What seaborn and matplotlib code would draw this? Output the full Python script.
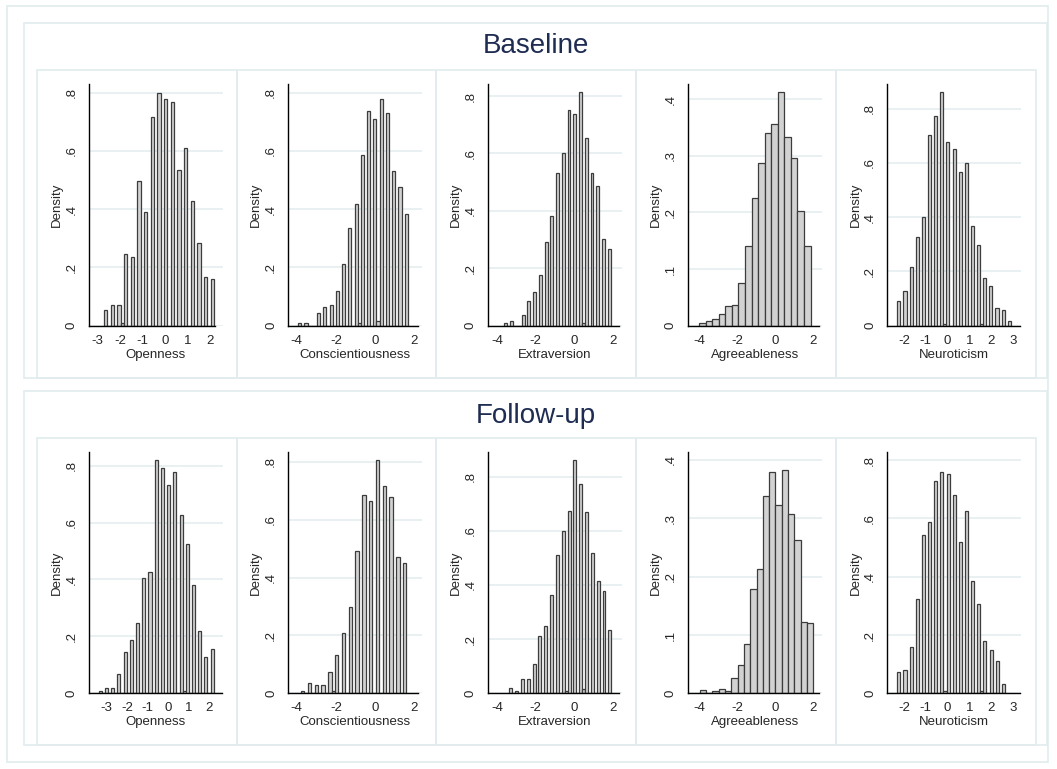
import numpy as np
import pandas as pd
import seaborn as sns
import matplotlib.pyplot as plt
from matplotlib.patches import Rectangle

traits = ["Openness", "Conscientiousness", "Extraversion", "Agreeableness", "Neuroticism"]
waves = ["Baseline", "Follow-up"]

# density of the main bars
open_b = [0.055, 0.070, 0.070, 0.245, 0.237, 0.496, 0.389, 0.715, 0.799, 0.777,
          0.768, 0.533, 0.609, 0.427, 0.283, 0.168, 0.161]
consc_b = [0.008, 0.008, 0.0, 0.042, 0.063, 0.071, 0.120, 0.211, 0.335, 0.419,
           0.585, 0.738, 0.711, 0.779, 0.731, 0.530, 0.475, 0.383]
extra_b = [0.008, 0.016, 0.0, 0.039, 0.086, 0.116, 0.175, 0.290, 0.381, 0.532,
           0.600, 0.752, 0.736, 0.813, 0.653, 0.532, 0.487, 0.303, 0.266]
agree_b = [0.004, 0.008, 0.011, 0.020, 0.034, 0.037, 0.075, 0.141, 0.226, 0.287,
           0.341, 0.357, 0.412, 0.334, 0.297, 0.203, 0.141]
neuro_b = [0.091, 0.129, 0.216, 0.328, 0.401, 0.702, 0.773, 0.861, 0.677, 0.653,
           0.568, 0.598, 0.369, 0.296, 0.177, 0.145, 0.066, 0.059, 0.018]

open_f = [0.009, 0.018, 0.018, 0.069, 0.144, 0.189, 0.248, 0.404, 0.426, 0.821,
          0.791, 0.731, 0.777, 0.627, 0.524, 0.382, 0.218, 0.129, 0.157]
consc_f = [0.009, 0.035, 0.028, 0.028, 0.074, 0.131, 0.207, 0.299, 0.491, 0.684,
           0.665, 0.806, 0.716, 0.677, 0.472, 0.452]
extra_f = [0.018, 0.010, 0.054, 0.054, 0.107, 0.212, 0.249, 0.362, 0.511, 0.601,
           0.674, 0.862, 0.774, 0.668, 0.518, 0.414, 0.377, 0.234]
agree_f = [0.005, 0.0, 0.004, 0.007, 0.004, 0.026, 0.048, 0.085, 0.179, 0.213,
           0.338, 0.379, 0.322, 0.382, 0.307, 0.263, 0.123, 0.121]
neuro_f = [0.072, 0.080, 0.158, 0.322, 0.542, 0.589, 0.729, 0.760, 0.753, 0.682,
           0.518, 0.627, 0.384, 0.306, 0.181, 0.150, 0.111, 0.033]

# tiny bars sitting in the gaps between main bars (None = bins touch)
open_b_gap = {2: 0.008}
consc_b_gap = {9: 0.008, 12: 0.015}
extra_b_gap = {13: 0.008}
agree_b_gap = None
neuro_b_gap = {7: 0.008, 13: 0.008}
open_f_gap = {13: 0.008}
consc_f_gap = {4: 0.008}
extra_f_gap = {9: 0.008, 12: 0.016}
agree_f_gap = None
neuro_f_gap = {7: 0.008, 13: 0.008}

# centre of first main bar and distance between main bars
first_b = [-2.645, -3.847, -3.537, -3.828, -2.229]
step_b = [0.296, 0.32, 0.296, 0.3445, 0.281]
first_f = [-3.308, -3.694, -3.28, -3.823, -2.229]
step_f = [0.303, 0.347, 0.30, 0.334, 0.2816]

heights = [[open_b, consc_b, extra_b, agree_b, neuro_b],
           [open_f, consc_f, extra_f, agree_f, neuro_f]]
gaps = [[open_b_gap, consc_b_gap, extra_b_gap, agree_b_gap, neuro_b_gap],
        [open_f_gap, consc_f_gap, extra_f_gap, agree_f_gap, neuro_f_gap]]
firsts = [first_b, first_f]
steps = [step_b, step_f]

xticks = [[-3, -2, -1, 0, 1, 2], [-4, -2, 0, 2], [-4, -2, 0, 2], [-4, -2, 0, 2],
          [-2, -1, 0, 1, 2, 3]]

# axis settings per panel: xlim, end of x axis line, ylim top
xlims = [[(-3.4, 2.54), (-4.44, 2.41), (-4.46, 2.44), (-4.61, 2.44), (-2.76, 3.38)],
         [(-3.88, 2.65), (-4.44, 2.41), (-4.46, 2.44), (-4.63, 2.46), (-2.76, 3.38)]]
xends = [[2.22, 2.22, 2.27, 2.28, 3.3], [2.62, 2.22, 2.27, 2.3, 3.3]]
ytops = [[0.83, 0.83, 0.842, 0.427, 0.891], [0.849, 0.835, 0.892, 0.414, 0.829]]

sns.set_style("white")
plt.rcParams['font.family'] = ['Liberation Sans', 'DejaVu Sans']

W, H = 1057, 769
fig = plt.figure(figsize=(W / 100, H / 100), dpi=100)
fig.patch.set_facecolor("white")

line_c = "#e2ecee"
title_c = "#1f2c52"


def box(x0, y0, x1, y1):
    fig.add_artist(Rectangle((x0 / W, 1 - y1 / H), (x1 - x0) / W, (y1 - y0) / H,
                             transform=fig.transFigure, fill=False, ec=line_c, lw=1.2))


def fmt(v):
    if abs(v) < 1e-9:
        return "0"
    return f"{v:.1f}".replace("0.", ".")


box(7, 6, 1048, 762)
row_top = [84, 451.7]
row_bot = [325.7, 693.3]
group_y = [(23, 377.5), (391, 745)]
panel_y = [(70, 377.5), (437.7, 745)]
title_y = [46, 416]

for r in range(2):
    box(24, group_y[r][0], 1047, group_y[r][1])
    fig.text(536 / W, 1 - title_y[r] / H, waves[r], ha="center", va="center",
             fontsize=20, color=title_c)
    for c in range(5):
        px = 37 + 199.7 * c
        box(px, panel_y[r][0], px + 199.7, panel_y[r][1])
        left, right = px + 51.5, px + 185.5
        ax = fig.add_axes([left / W, 1 - row_bot[r] / H, (right - left) / W,
                           (row_bot[r] - row_top[r]) / H])

        h = heights[r][c]
        g = gaps[r][c]
        step = steps[r][c]
        if g is None:
            vals = list(h)
            width = step
        else:
            vals = []
            for i, v in enumerate(h):
                vals.append(v)
                if i < len(h) - 1:
                    vals.append(g.get(i, 0.0))
            width = step / 2
        centers = firsts[r][c] + width * np.arange(len(vals))
        edges = [float(e) for e in np.append(centers - width / 2, centers[-1] + width / 2)]
        df = pd.DataFrame({"x": centers, "w": vals})
        sns.histplot(data=df, x="x", weights="w", bins=edges, ax=ax,
                     color="#d2d2d2", edgecolor="#3c3c3c", linewidth=0.9, alpha=1)

        ax.set_xlim(*xlims[r][c])
        ax.set_ylim(0, ytops[r][c])
        ystep = 0.1 if ytops[r][c] < 0.5 else 0.2
        yt = np.arange(0, ytops[r][c] + 1e-9, ystep)
        ax.set_yticks(yt)
        ax.set_yticklabels([fmt(v) for v in yt], rotation=90, va="center")
        ax.set_xticks(xticks[c])
        ax.set_xticklabels([str(t) for t in xticks[c]])
        ax.tick_params(axis="both", labelsize=9.5, length=4, width=0.8,
                       color="black", direction="out")
        ax.tick_params(axis="y", pad=4)
        ax.tick_params(axis="x", pad=2.5)
        ax.yaxis.grid(True, color=line_c, lw=1.1)
        ax.xaxis.grid(False)
        ax.set_axisbelow(True)
        for s in ["top", "right"]:
            ax.spines[s].set_visible(False)
        for s in ["left", "bottom"]:
            ax.spines[s].set_color("black")
            ax.spines[s].set_linewidth(1)
        ax.spines["bottom"].set_bounds(xlims[r][c][0], xends[r][c])
        ax.set_facecolor("white")
        ax.set_ylabel("Density", fontsize=9.5, labelpad=2)
        ax.set_xlabel(traits[c], fontsize=9.5, labelpad=1.5)

fig.savefig("out.png", dpi=100, facecolor="white")
